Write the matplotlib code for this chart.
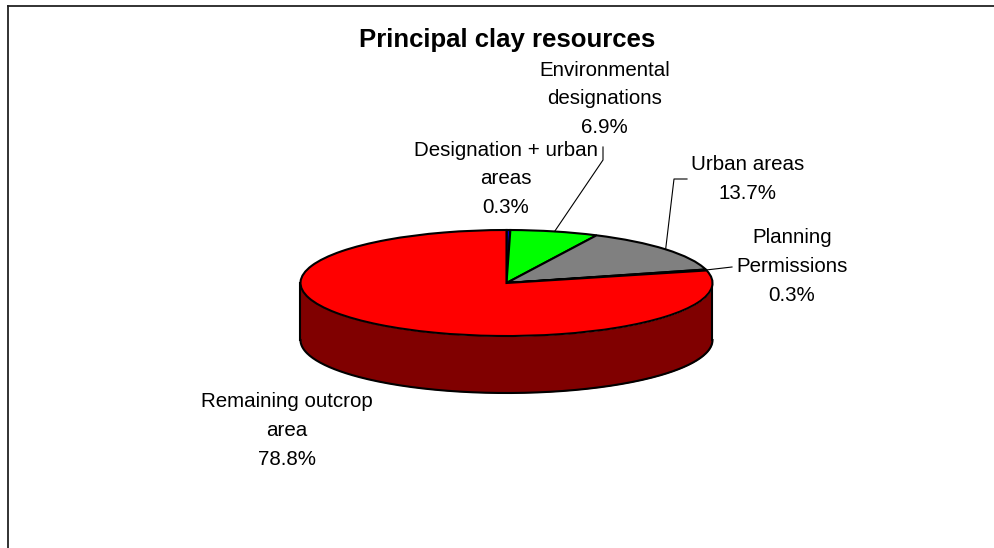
import matplotlib
matplotlib.use("Agg")
import matplotlib.pyplot as plt
import numpy as np

plt.rcParams["font.family"] = ["Liberation Sans", "DejaVu Sans"]

W, H = 995, 548

categories = [
    "Designation + urban\nareas",
    "Environmental\ndesignations",
    "Urban areas",
    "Planning\nPermissions",
    "Remaining outcrop\narea",
]
values = [0.3, 6.9, 13.7, 0.3, 78.8]
slice_colors = ["#0000C0", "#00FF00", "#808080", "#000000", "#FF0000"]
wall_color = "#800000"

# label centres in image pixels
label_pos = [(505.5, 179), (604.5, 99), (748, 179), (792, 266.5), (287, 430.5)]
# elbow of the leader line in image pixels, None means no leader
leader_path = {
    1: [(603, 147), (603, 160)],
    2: [(687, 179), (674, 179)],
    3: [(732, 267)],
}

# pie ellipse box in image pixels
PIE_CX, PIE_CY = 506.5, 283
PIE_RX, PIE_RY = 206, 53
PIE_DEPTH = 57
EDGE_LW = 1.5

fig = plt.figure(figsize=(W / 100, H / 100), dpi=100, facecolor="white")

# overlay in image pixels for frame, text and leaders
overlay = fig.add_axes([0, 0, 1, 1], zorder=3)
overlay.set_xlim(0, W)
overlay.set_ylim(H, 0)
overlay.axis("off")
overlay.patch.set_alpha(0)

ax = fig.add_axes(
    [(PIE_CX - PIE_RX) / W, 1 - (PIE_CY + PIE_RY) / H, 2 * PIE_RX / W, 2 * PIE_RY / H],
    zorder=2,
)
ax.pie(
    values,
    colors=slice_colors,
    startangle=90,
    counterclock=False,
    wedgeprops={"edgecolor": "black", "linewidth": EDGE_LW, "clip_on": False},
)
ax.set_aspect("auto")
ax.set_xlim(-1, 1)
ax.set_ylim(-1, 1)

# side wall under the front half of the disc
theta = np.linspace(np.pi, 2 * np.pi, 200)
depth = 2 * PIE_DEPTH / (2 * PIE_RY)
xs = np.cos(theta)
ys = np.sin(theta)
ax.fill_between(xs, ys, ys - depth, color=wall_color, zorder=0, clip_on=False, linewidth=0)
ax.plot(xs, ys - depth, color="black", lw=EDGE_LW, zorder=0.5, clip_on=False)
ax.plot([-1, -1], [0, -depth], color="black", lw=EDGE_LW, zorder=0.5, clip_on=False)
ax.plot([1, 1], [0, -depth], color="black", lw=EDGE_LW, zorder=0.5, clip_on=False)

# frame: top and left only, the rest falls off the image
overlay.plot([8, W], [5.5, 5.5], color="#222222", lw=1.3, clip_on=False)
overlay.plot([8, 8], [5.5, H], color="#222222", lw=1.3, clip_on=False)

overlay.text(507, 40.5, "Principal clay resources", ha="center", va="center",
             fontsize=18.5, fontweight="bold", color="black")

cum = np.cumsum([0] + values)
for i, (name, val) in enumerate(zip(categories, values)):
    x, y = label_pos[i]
    overlay.text(x, y, f"{name}\n{val}%", ha="center", va="center", fontsize=14.8,
                 linespacing=1.66, color="black", multialignment="center")
    if i in leader_path:
        mid = (cum[i] + cum[i + 1]) / 2 / cum[-1] * 2 * np.pi
        end = (PIE_CX + PIE_RX * np.sin(mid), PIE_CY - PIE_RY * np.cos(mid))
        pts = leader_path[i] + [end]
        overlay.plot([p[0] for p in pts], [p[1] for p in pts], color="black", lw=0.8)

fig.savefig("out.png", dpi=100, facecolor="white")
